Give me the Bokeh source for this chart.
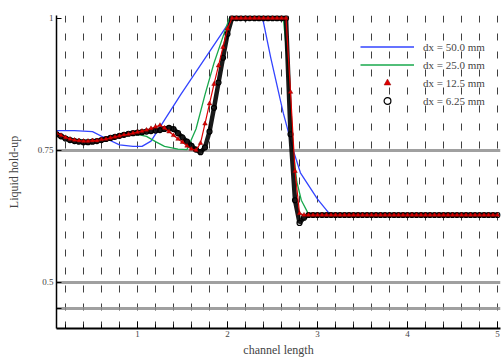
import numpy as np
from bokeh.plotting import figure
from bokeh.models import FixedTicker, Legend, LegendItem, Range1d
from bokeh.embed import file_html
from bokeh.resources import INLINE

# ---------------- data ----------------
# uniform mesh used for the two fine-grid series (shown with markers)
x_cells = np.round(np.arange(0.10, 5.001, 0.05), 2)

y_dx125 = ([0.782, 0.778, 0.774, 0.771, 0.769, 0.768, 0.767, 0.767, 0.768, 0.768,
            0.770, 0.771, 0.773, 0.775, 0.777, 0.779, 0.780, 0.782, 0.784, 0.786,
            0.788, 0.791, 0.794, 0.797, 0.792, 0.785, 0.778, 0.771, 0.765, 0.758,
            0.752, 0.750, 0.763, 0.800, 0.838, 0.875, 0.910, 0.945, 0.980, 1.000]
           + [1.000] * 12
           + [0.860, 0.710, 0.630]
           + [0.627] * 44)

y_dx625 = ([0.780, 0.776, 0.772, 0.769, 0.767, 0.766, 0.765, 0.765, 0.766, 0.767,
            0.769, 0.771, 0.773, 0.775, 0.777, 0.779, 0.781, 0.782, 0.783, 0.784,
            0.785, 0.786, 0.787, 0.788, 0.790, 0.792, 0.790, 0.782, 0.774, 0.766,
            0.758, 0.751, 0.746, 0.755, 0.785, 0.830, 0.878, 0.925, 0.970, 1.000]
           + [1.000] * 12
           + [0.780, 0.655, 0.612, 0.622]
           + [0.627] * 43)

x_dx25 = [0.10, 0.30, 0.50, 0.80, 1.00, 1.10, 1.20, 1.30, 1.45, 1.55, 1.65, 1.75,
          1.85, 1.95, 2.02, 2.62, 2.66, 2.70, 2.73, 2.77, 2.82, 2.89, 2.95, 5.03]
y_dx25 = [0.782, 0.770, 0.768, 0.776, 0.780, 0.776, 0.766, 0.757, 0.752, 0.751, 0.790, 0.855,
          0.915, 0.965, 1.000, 1.000, 0.930, 0.830, 0.750, 0.690, 0.655, 0.632, 0.627, 0.627]

x_dx50 = [0.10, 0.30, 0.50, 0.65, 0.80, 0.95, 1.05, 1.15, 1.48, 2.05, 2.39, 2.48,
          2.62, 2.73, 2.81, 3.00, 3.12, 3.20, 5.03]
y_dx50 = [0.787, 0.787, 0.785, 0.772, 0.760, 0.757, 0.757, 0.767, 0.855, 1.000, 1.000, 0.925,
          0.820, 0.750, 0.707, 0.657, 0.632, 0.627, 0.627]

x_major = [1, 2, 3, 4, 5]
x_minor = [round(0.2 * i, 1) for i in range(1, 26)]
y_ticks = [0.45, 0.5, 0.75, 1.0]
y_lines = [0.45, 0.5, 0.75]
labels = ["dx = 50.0 mm", "dx = 25.0 mm", "dx = 12.5 mm", "dx = 6.25 mm"]

SERIF = "Liberation Serif"

p = figure(width=502, height=359, x_range=Range1d(0.1, 5.033), y_range=Range1d(0.412, 1.005),
           output_backend="svg", toolbar_location=None,
           min_border_left=56, min_border_right=2, min_border_top=15, min_border_bottom=30)
p.outline_line_color = None
p.background_fill_color = "white"

# grids
p.xgrid.ticker = FixedTicker(ticks=x_minor)
p.xgrid.grid_line_color = "black"
p.xgrid.grid_line_dash = "7 11"
p.xgrid.grid_line_alpha = 0.75
p.xgrid.grid_line_width = 1
p.ygrid.ticker = FixedTicker(ticks=y_lines)
p.ygrid.grid_line_color = "#8f8f8f"
p.ygrid.grid_line_width = 3
p.ygrid.grid_line_alpha = 0.85

# axes
xa = p.xaxis[0]
xa.ticker = FixedTicker(ticks=x_major, minor_ticks=x_minor)
xa.axis_line_width = 2
xa.major_tick_in = 7
xa.major_tick_out = 0
xa.minor_tick_in = 4
xa.minor_tick_out = 0
xa.major_label_text_font = SERIF
xa.major_label_text_font_size = "9px"
xa.major_label_standoff = 2
xa.axis_label = "channel length"
xa.axis_label_text_font = SERIF
xa.axis_label_text_font_style = "normal"
xa.axis_label_text_font_size = "12px"
xa.axis_label_standoff = 3

ya = p.yaxis[0]
ya.ticker = FixedTicker(ticks=y_ticks)
ya.major_label_overrides = {0.45: "", 0.5: "0.5", 0.75: "0.75", 1.0: "1"}
ya.axis_line_width = 1.5
ya.major_tick_in = 5
ya.major_tick_out = 0
ya.minor_tick_line_color = None
ya.major_label_text_font = SERIF
ya.major_label_text_font_size = "9px"
ya.major_label_standoff = 3
ya.axis_label = "Liquid hold-up"
ya.axis_label_text_font = SERIF
ya.axis_label_text_font_style = "normal"
ya.axis_label_text_font_size = "12px"
ya.axis_label_standoff = 14

# series
r_blue = p.line(x_dx50, y_dx50, line_color="#3344ff", line_width=1.3)
r_green = p.line(x_dx25, y_dx25, line_color="#18a84c", line_width=1.3)
p.line(x_cells, y_dx625, line_color="black", line_width=4.5, line_alpha=0.9)
r_black = p.scatter(x_cells, y_dx625, marker="circle", size=5, fill_color=None,
                    line_color="black", line_width=1.2)
p.line(x_cells, y_dx125, line_color="#e00000", line_width=1.2)
r_red = p.scatter(x_cells, y_dx125, marker="triangle", size=4.5, fill_color="#e00000",
                  line_color="#8b0000", line_width=0.5)

legend = Legend(items=[LegendItem(label=labels[0], renderers=[r_blue]),
                       LegendItem(label=labels[1], renderers=[r_green]),
                       LegendItem(label=labels[2], renderers=[r_red]),
                       LegendItem(label=labels[3], renderers=[r_black])],
                location=(304, 219), orientation="vertical",
                background_fill_alpha=0, border_line_alpha=0,
                glyph_width=54, glyph_height=17, label_height=17, spacing=1,
                label_standoff=9, padding=0, margin=0,
                label_text_font=SERIF, label_text_font_size="11px")
p.add_layout(legend)

open("out.html", "w").write(file_html(p, INLINE))
